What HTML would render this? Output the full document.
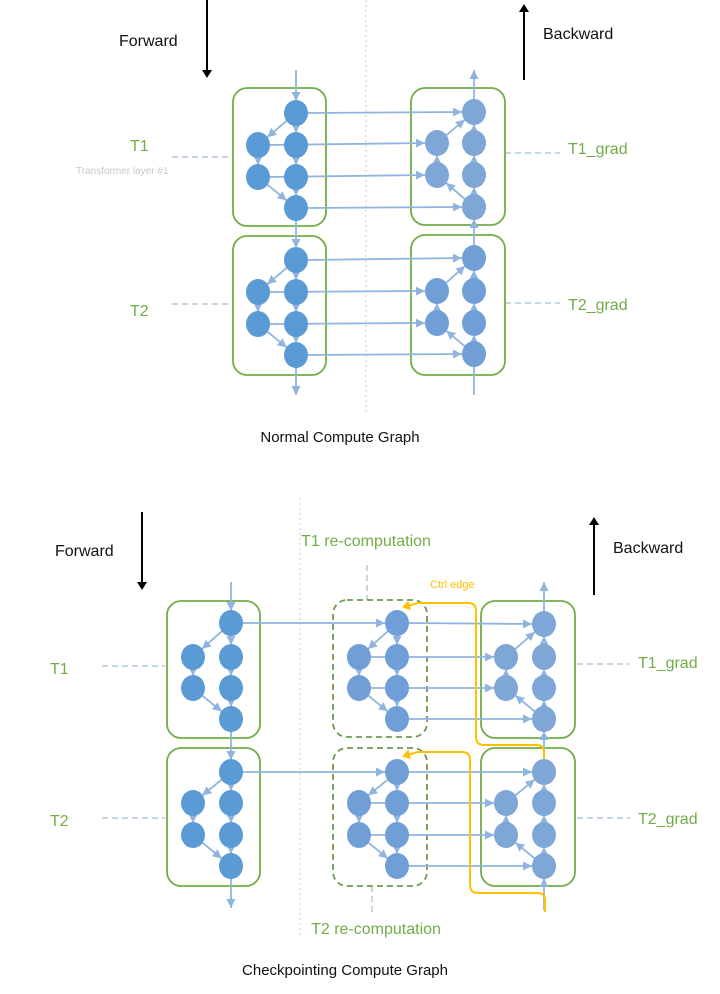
<!DOCTYPE html>
<html><head><meta charset="utf-8"><style>
html,body{margin:0;padding:0;background:#fff;}
svg{display:block;font-family:"Liberation Sans",sans-serif;}
</style></head><body>
<svg id="d" width="720" height="994" viewBox="0 0 720 994" xmlns="http://www.w3.org/2000/svg">
<defs>
<marker id="ab" markerWidth="6" markerHeight="6" refX="5" refY="3" orient="auto"><path d="M0,0.5 L5,3 L0,5.5z" fill="#8fb4de"/></marker>
<marker id="ak" markerWidth="5" markerHeight="5" refX="3" refY="2.5" orient="auto"><path d="M0,0 L4,2.5 L0,5z" fill="#000"/></marker>
<marker id="ay" markerWidth="5" markerHeight="5" refX="3" refY="2.5" orient="auto"><path d="M0,0 L4,2.5 L0,5z" fill="#ffc000"/></marker>
</defs>
<g id="bg"></g>
<g id="edges"></g>
<g id="nodes"></g>
<g id="txt" font-size="16">
<text x="119" y="46" fill="#111">Forward</text>
<text x="543" y="39" fill="#111">Backward</text>
<text x="130" y="151" fill="#70ad47">T1</text>
<text x="76" y="174" fill="#c8c8c8" font-size="10">Transformer  layer #1</text>
<text x="130" y="316" fill="#70ad47">T2</text>
<text x="568" y="154" fill="#70ad47">T1_grad</text>
<text x="568" y="310" fill="#70ad47">T2_grad</text>
<text x="340" y="442" fill="#111" text-anchor="middle" font-size="15">Normal Compute Graph</text>
<text x="55" y="556" fill="#111">Forward</text>
<text x="613" y="553" fill="#111">Backward</text>
<text x="366" y="546" fill="#70ad47" text-anchor="middle">T1 re-computation</text>
<text x="376" y="934" fill="#70ad47" text-anchor="middle">T2 re-computation</text>
<text x="430" y="588" fill="#ffc000" font-size="11">Ctrl edge</text>
<text x="50" y="674" fill="#70ad47">T1</text>
<text x="50" y="826" fill="#70ad47">T2</text>
<text x="638" y="668" fill="#70ad47">T1_grad</text>
<text x="638" y="824" fill="#70ad47">T2_grad</text>
<text x="345" y="975" fill="#111" text-anchor="middle" font-size="15">Checkpointing Compute Graph</text>
</g>
</svg>
<script>
const NS="http://www.w3.org/2000/svg";
const bg=document.getElementById('bg'),E=document.getElementById('edges'),N=document.getElementById('nodes');
function mk(p,t,a){const e=document.createElementNS(NS,t);for(const k in a)e.setAttribute(k,a[k]);p.appendChild(e);return e;}
function line(p,x1,y1,x2,y2,st,nm){const e=mk(p,'line',{x1,y1,x2,y2,stroke:st.c,'stroke-width':st.w||1.5,'stroke-dasharray':st.d||'none'});if(st.m)e.setAttribute('marker-end','url(#'+st.m+')');

return e;}
const BL={c:'#8fb4de',w:1.8,m:'ab'};
function rect(x,y,w,h,dash,nm){const r=mk(bg,'rect',{x,y,width:w,height:h,rx:14,fill:'none',stroke:dash?'#6d9a4e':'#70ad47','stroke-width':1.8,'stroke-dasharray':dash?'6,4':'none'});

}
function node(x,y,c,nm){const e=mk(N,'ellipse',{cx:x,cy:y,rx:12,ry:13,fill:c});

}
function pos(lx,rx,ys){return {t:[rx,ys[0]],l1:[lx,ys[1]],r1:[rx,ys[1]],l2:[lx,ys[2]],r2:[rx,ys[2]],b:[rx,ys[3]]};}
function sh(a,b,r){const dx=b[0]-a[0],dy=b[1]-a[1],L=Math.hypot(dx,dy);return [a[0]+dx/L*r,a[1]+dy/L*r,b[0]-dx/L*r,b[1]-dy/L*r];}
function edge(a,b,nm){const s=sh(a,b,12);line(E,s[0],s[1],s[2],s[3],BL,nm);}
function fblock(P,c,nm){const pairs=[['t','l1'],['t','r1'],['l1','l2'],['r1','r2'],['l2','b'],['r2','b']];
pairs.forEach(p=>edge(P[p[0]],P[p[1]],nm+'-edge'));for(const k in P)node(P[k][0],P[k][1],c,nm+'-node-'+k);}
function bblock(P,c,nm){const pairs=[['b','r2'],['b','l2'],['l2','l1'],['r2','r1'],['l1','t'],['r1','t']];
pairs.forEach(p=>edge(P[p[0]],P[p[1]],nm+'-edge'));for(const k in P)node(P[k][0],P[k][1],c,nm+'-node-'+k);}
function cross(A,B,keys,nm){keys.forEach(k=>line(E,A[k][0]+11,A[k][1],B[k][0]-12,B[k][1],BL,nm));}
const FC='#5b9bd5',BC='#7ea6d6',RC='#6f9fd6';
const K=['t','l1','l2','b'];
line(bg,366,0,366,415,{c:'#c9c9c9',w:1,d:'2,3'},'middle-divider-top');
line(bg,207,0,207,76,{c:'#000',w:2,m:'ak'},'forward-arrow-top');
line(bg,524,80,524,6,{c:'#000',w:2,m:'ak'},'backward-arrow-top');
[[172,157,232,157],[505,153,560,153],[172,304,232,304],[505,303,560,303]].forEach(d=>line(bg,d[0],d[1],d[2],d[3],{c:'#b4c7dc',w:1.5,d:'6,4'},'layer-dash'));
rect(233,88,93,138,false,'t1-forward-box');rect(233,236,93,139,false,'t2-forward-box');
rect(411,88,94,137,false,'t1-grad-box');rect(411,235,94,140,false,'t2-grad-box');
const F1=pos(258,296,[113,145,177,208]),F2=pos(258,296,[260,292,324,355]);
const B1=pos(437,474,[112,143,175,207]),B2=pos(437,474,[258,291,323,354]);
line(E,296,70,296,101,BL,'input-arrow');line(E,296,220,296,248,BL,'t1-t2-edge');line(E,296,367,296,395,BL,'output-arrow');
line(E,474,395,474,342,BL,'loss-grad-arrow');line(E,474,246,474,219,BL,'t2-t1-grad-edge');line(E,474,100,474,70,BL,'grad-output-arrow');
cross(F1,B1,K,'t1-activation-edge');cross(F2,B2,K,'t2-activation-edge');
fblock(F1,FC,'t1-forward');fblock(F2,FC,'t2-forward');bblock(B1,BC,'t1-grad');bblock(B2,RC,'t2-grad');
line(bg,300,498,300,935,{c:'#c9c9c9',w:1,d:'2,3'},'middle-divider-bottom');
line(bg,142,512,142,588,{c:'#000',w:2,m:'ak'},'forward-arrow-bottom');
line(bg,594,595,594,519,{c:'#000',w:2,m:'ak'},'backward-arrow-bottom');
[[102,666,165,666],[102,818,165,818],[577,664,630,664],[577,818,630,818],[367,565,367,600],[372,886,372,912]].forEach(d=>line(bg,d[0],d[1],d[2],d[3],{c:'#b4c7dc',w:1.5,d:'6,4'},'layer-dash'));
rect(167,601,93,137,false,'t1-forward-box-ckpt');rect(167,748,93,138,false,'t2-forward-box-ckpt');
rect(333,600,94,137,true,'t1-recompute-box');rect(333,748,94,138,true,'t2-recompute-box');
rect(481,601,94,137,false,'t1-grad-box-ckpt');rect(481,748,94,138,false,'t2-grad-box-ckpt');
const G1=pos(193,231,[623,657,688,719]),G2=pos(193,231,[772,803,835,866]);
const R1=pos(359,397,[623,657,688,719]),R2=pos(359,397,[772,803,835,866]);
const H1=pos(506,544,[624,657,688,719]),H2=pos(506,544,[772,803,835,866]);
line(E,231,582,231,611,BL,'input-arrow-ckpt');line(E,231,731,231,760,BL,'t1-t2-edge-ckpt');line(E,231,878,231,908,BL,'output-arrow-ckpt');
line(E,544,910,544,878,BL,'loss-grad-arrow-ckpt');line(E,544,760,544,731,BL,'t2-t1-grad-edge-ckpt');line(E,544,612,544,582,BL,'grad-output-arrow-ckpt');
line(E,242,623,385,623,BL,'t1-checkpoint-edge');line(E,242,772,385,772,BL,'t2-checkpoint-edge');
cross(R1,H1,['t','l1','l2','b'],'t1-recompute-edge');cross(R2,H2,['t','l1','l2','b'],'t2-recompute-edge');
fblock(G1,FC,'t1-forward-ckpt');fblock(G2,FC,'t2-forward-ckpt');
fblock(R1,RC,'t1-recompute');fblock(R2,RC,'t2-recompute');
bblock(H1,BC,'t1-grad-ckpt');bblock(H2,BC,'t2-grad-ckpt');
function yp(d,nm){const p=mk(E,'path',{d,fill:'none',stroke:'#ffc000','stroke-width':2,'marker-end':'url(#ay)'});

}
yp('M544,760 L544,752 Q544,745 536,745 L484,745 Q476,745 476,737 L476,611 Q476,603 468,603 L418,603 L404,607','ctrl-edge-t1');
yp('M545,912 L545,900 Q545,893 537,893 L478,893 Q470,893 470,885 L470,760 Q470,752 462,752 L418,752 L404,756','ctrl-edge-t2');
</script>
</body></html>
